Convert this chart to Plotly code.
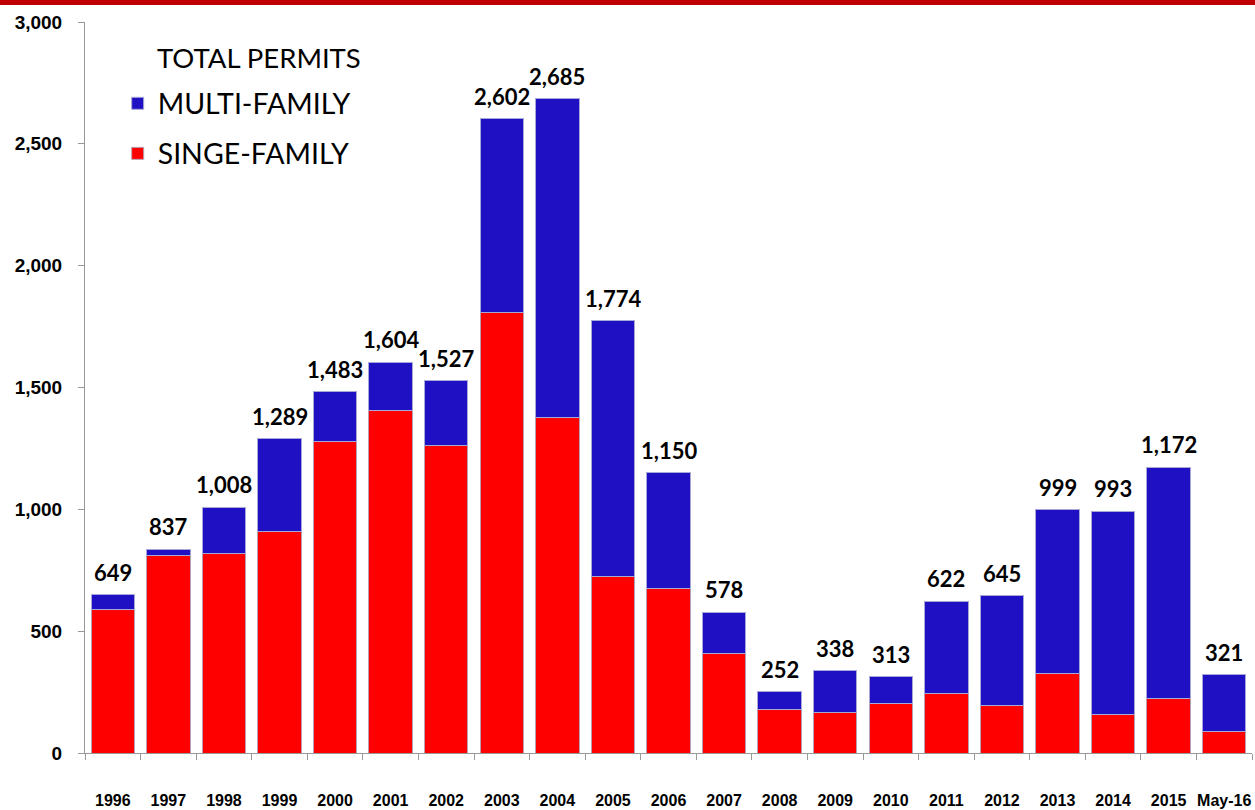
import plotly.graph_objects as go

categories = ['1996', '1997', '1998', '1999', '2000', '2001', '2002', '2003', '2004', '2005',
              '2006', '2007', '2008', '2009', '2010', '2011', '2012', '2013', '2014', '2015', 'May-16']
single_family = [590, 812, 818, 911, 1277, 1405, 1261, 1807, 1375, 726, 676, 409, 179, 168, 205,
                 246, 197, 328, 160, 222, 90]
multi_family = [59, 25, 190, 378, 206, 199, 266, 795, 1310, 1048, 474, 169, 73, 170, 108,
                376, 448, 671, 833, 950, 231]
totals = [649, 837, 1008, 1289, 1483, 1604, 1527, 2602, 2685, 1774, 1150, 578, 252, 338, 313,
          622, 645, 999, 993, 1172, 321]
y_ticks = [0, 500, 1000, 1500, 2000, 2500, 3000]

NARROW = "Liberation Sans Narrow, Arial Narrow, Liberation Sans, sans-serif"
LABEL = "Lato, Open Sans, sans-serif"

fig = go.Figure()
fig.add_trace(go.Bar(
    x=categories, y=single_family, name="SINGE-FAMILY", legendrank=2, legendgroup="s",
    marker=dict(color="#FF0000", line=dict(color="#B8A0B0", width=1)),
))
fig.add_trace(go.Bar(
    x=categories, y=multi_family, name="MULTI-FAMILY", legendrank=1, legendgroup="m",
    marker=dict(color="#2010C4", line=dict(color="#A8A8D8", width=1)),
))

annotations = [dict(text="TOTAL PERMITS", xref="paper", yref="paper", x=70 / 1167, y=1 - 35 / 731,
                    xanchor="left", yanchor="middle", showarrow=False,
                    font=dict(family=LABEL, size=27.5, color="black"))]
for i, tot in enumerate(totals):
    annotations.append(dict(x=i, y=tot, xref="x", yref="y", text=f"<b>{tot:,}</b>", showarrow=False,
                            yanchor="bottom", yshift=7,
                            font=dict(family=LABEL, size=22, color="black")))

fig.update_layout(
    width=1255, height=810,
    barmode="stack", bargap=0.22,
    plot_bgcolor="white", paper_bgcolor="white",
    margin=dict(l=85, r=3, t=22, b=57, autoexpand=False),
    showlegend=True,
    legend=dict(
        x=0.028, y=0.923, xanchor="left", yanchor="top",
        traceorder="grouped", tracegroupgap=10,
        font=dict(family=LABEL, size=28.5, color="black"),
        bgcolor="rgba(0,0,0,0)", itemwidth=30,
    ),
    annotations=annotations,
    xaxis=dict(
        type="category", range=[-0.5, len(categories) - 0.5],
        showline=True, linecolor="#999999", linewidth=1,
        ticks="outside", tickson="boundaries", ticklen=6, tickcolor="#999999",
        tickfont=dict(family=NARROW, size=16, color="black", weight="bold"),
        tickangle=0, ticklabelstandoff=33, showgrid=False, automargin=False,
    ),
    yaxis=dict(
        range=[0, 3000], tickvals=y_ticks, tickformat=",",
        showline=True, linecolor="#999999", linewidth=1,
        ticks="outside", ticklen=6, tickcolor="#999999",
        tickfont=dict(family=NARROW, size=19, color="black", weight="bold"),
        showgrid=False, zeroline=False, ticklabelstandoff=12, automargin=False,
    ),
    shapes=[dict(type="rect", xref="paper", yref="paper", x0=-0.1, x1=1.1,
                 y0=1 + 17 / 731, y1=1.1, fillcolor="#C00000", line=dict(width=0), layer="above")],
)
fig.write_html("out.html")
